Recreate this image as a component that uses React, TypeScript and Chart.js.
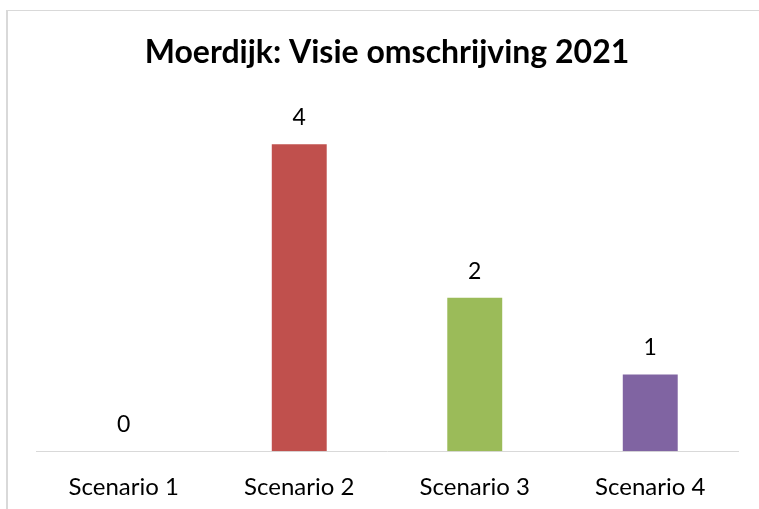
import React, { useEffect, useRef } from "react";
import { Chart, registerables } from "chart.js";

Chart.register(...registerables);

const categories = ["Scenario 1", "Scenario 2", "Scenario 3", "Scenario 4"];
const values = [0, 4, 2, 1];
const barColors = ["#4F81BD", "#C0504D", "#9BBB59", "#8064A2"];
const titleText = "Moerdijk: Visie omschrijving 2021";

const FONT = "Lato, 'Open Sans', sans-serif";

const valueLabels = {
  id: "valueLabels",
  afterDatasetsDraw(chart: any) {
    const ctx = chart.ctx;
    const meta = chart.getDatasetMeta(0);
    ctx.save();
    ctx.font = `23px ${FONT}`;
    ctx.fillStyle = "#000000";
    ctx.textAlign = "center";
    ctx.textBaseline = "alphabetic";
    meta.data.forEach((el: any, i: number) => {
      ctx.fillText(String(values[i]), el.x, el.y - 19);
    });
    ctx.restore();
  },
};

export default function App() {
  const ref = useRef<HTMLCanvasElement>(null);
  useEffect(() => {
    if (!ref.current) return;
    const chart = new Chart(ref.current, {
      type: "bar",
      data: {
        labels: categories,
        datasets: [
          {
            data: values,
            backgroundColor: barColors,
            barPercentage: 0.313,
            categoryPercentage: 1,
          },
        ],
      },
      options: {
        responsive: false,
        animation: false,
        layout: { padding: { left: 36, right: 21, top: 0, bottom: 6 } },
        plugins: {
          legend: { display: false },
          tooltip: { enabled: false },
          title: {
            display: true,
            text: titleText,
            color: "#000000",
            font: { family: FONT, size: 32, weight: "bold" },
            padding: { top: 33, bottom: 0 },
          },
        },
        scales: {
          x: {
            grid: { display: false, drawTicks: false },
            border: { display: true, color: "#D9D9D9", width: 1 },
            ticks: { color: "#000000", font: { family: FONT, size: 24 }, padding: 22 },
          },
          y: {
            display: false,
            min: 0,
            max: 4.95,
          },
        },
      },
      plugins: [valueLabels],
    });
    return () => chart.destroy();
  }, []);
  return (
    <div style={{ position: "fixed", left: 0, top: 0, width: 759, height: 509, background: "#fff", overflow: "hidden" }}>
      <div
        style={{
          position: "absolute",
          left: 6,
          top: 10,
          width: 800,
          height: 600,
          border: "1px solid #D9D9D9",
          borderLeftWidth: 2,
          boxSizing: "border-box",
        }}
      />
      <canvas ref={ref} width={759} height={530} style={{ position: "absolute", left: 0, top: 0 }} />
    </div>
  );
}
